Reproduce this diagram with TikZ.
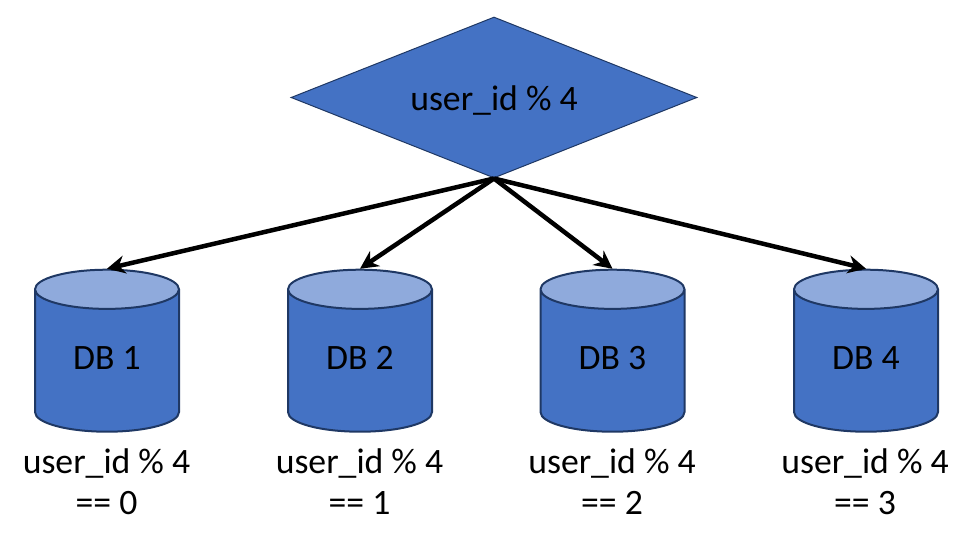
\documentclass[tikz,border=0pt]{standalone}
\usepackage{fontspec}
\setmainfont{Carlito}
\usetikzlibrary{shapes.geometric,arrows.meta}
\definecolor{fillblue}{HTML}{4472C4}
\definecolor{toplight}{HTML}{8FAADC}
\definecolor{edgeblue}{HTML}{1F3864}
\tikzset{
  x=1pt,y=-1pt,
  txt/.style={font=\fontsize{35.7}{41}\selectfont,text=black},
  decide/.style={diamond,draw=edgeblue,line width=1pt,fill=fillblue,aspect=2.52,minimum width=406pt,minimum height=161pt,inner sep=0pt,txt,text height=33pt,text depth=8pt},
  dbcyl/.style={cylinder,shape border rotate=90,draw=edgeblue,line width=2pt,cylinder uses custom fill,cylinder body fill=fillblue,cylinder end fill=toplight,minimum width=144pt,minimum height=162pt,aspect=0.58,inner sep=0pt,txt,text height=22pt,text depth=6pt},
  dblabel/.style={txt,align=center,inner sep=0pt},
  link/.style={draw=black,line width=4.5pt,-{Stealth[length=18pt,width=18pt]},shorten >=0pt}
}
\begin{document}
\begin{tikzpicture}
\useasboundingbox (0,0) rectangle (972,546);
\node[decide] (d) at (494,97.5) {user\_id \% 4};
\node[dbcyl] (a) at (107,361) {DB 1};
\node[dbcyl] (b) at (360,361) {DB 2};
\node[dbcyl] (c) at (612.5,361) {DB 3};
\node[dbcyl] (e) at (866,361) {DB 4};
\node[dblabel] (la) at (106.5,482) {user\_id \% 4\\== 0};
\node[dblabel] (lb) at (359.5,482) {user\_id \% 4\\== 1};
\node[dblabel] (lc) at (612,482) {user\_id \% 4\\== 2};
\node[dblabel] (le) at (865,482) {user\_id \% 4\\== 3};
\draw[link] (d.south) -- (a.top);
\draw[link] (d.south) -- (b.top);
\draw[link] (d.south) -- (c.top);
\draw[link] (d.south) -- (e.top);
\end{tikzpicture}
\end{document}
